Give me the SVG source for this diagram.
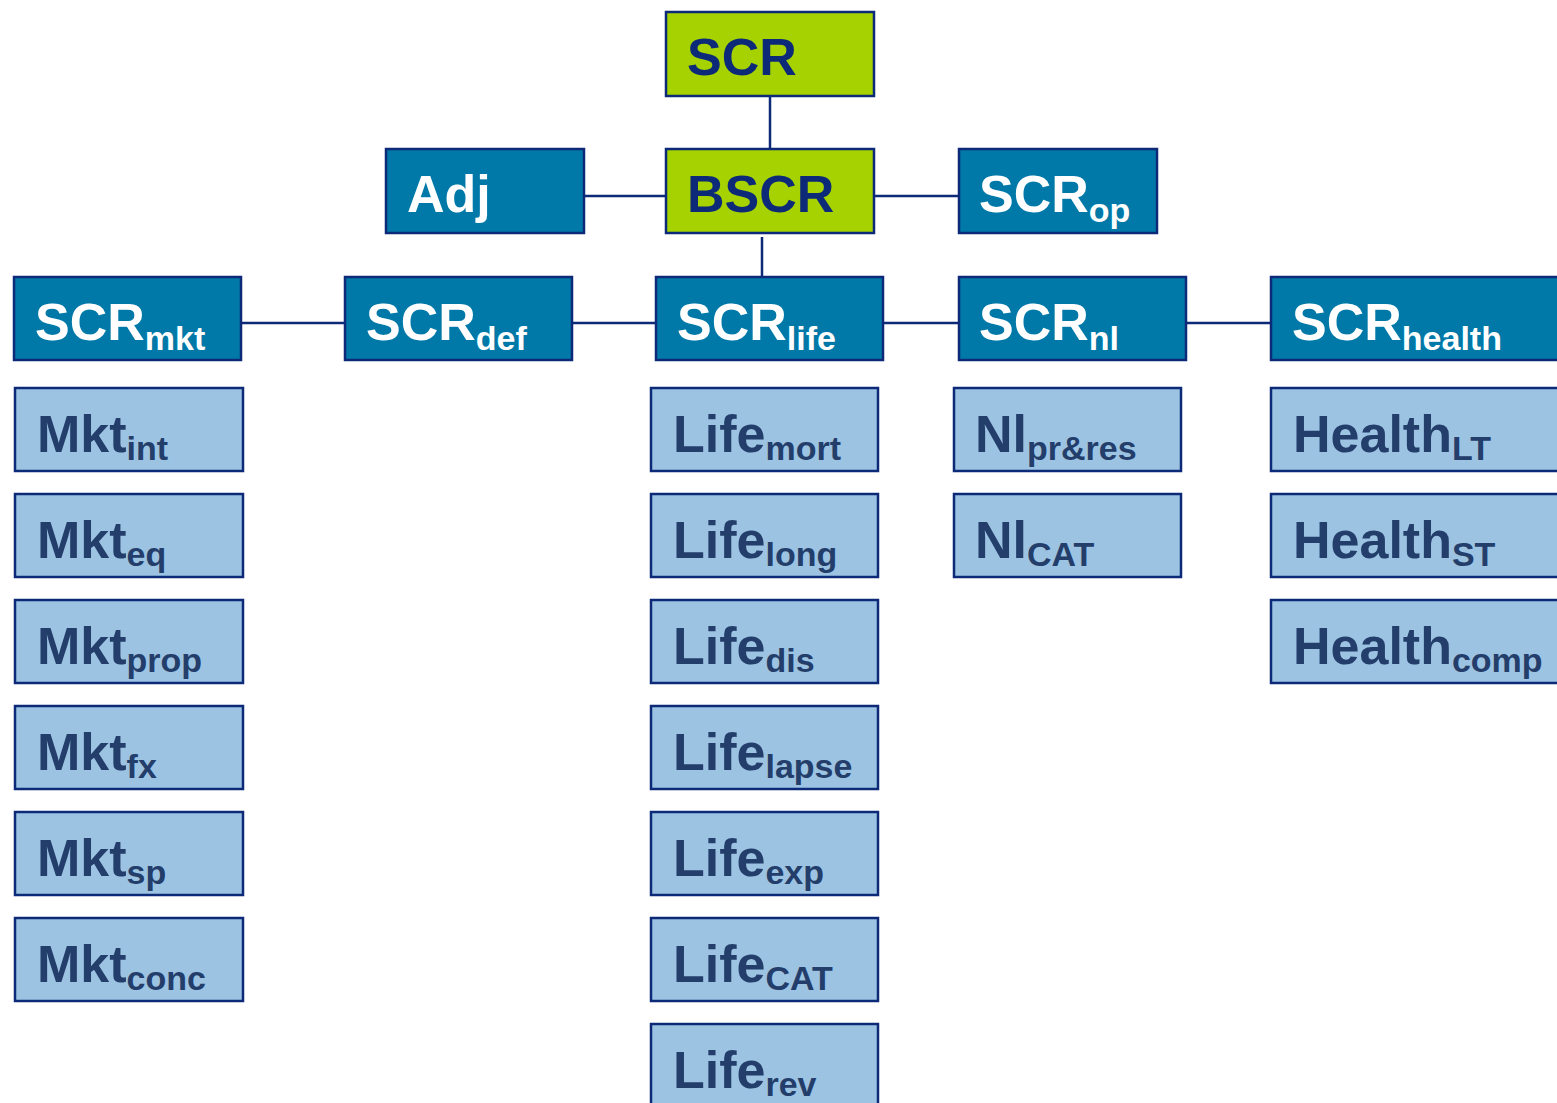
<svg xmlns="http://www.w3.org/2000/svg" width="1557" height="1103" viewBox="0 0 1557 1103">
<style>
.g{fill:#a5d200;stroke:#0d2a78;stroke-width:2.5}
.d{fill:#0079a8;stroke:#0d2a78;stroke-width:2.5}
.l{fill:#9dc3e3;stroke:#0d2a78;stroke-width:2.5}
text{font-family:"Liberation Sans",Arial,sans-serif;font-weight:bold;font-size:52px}
.tg{fill:#0d2a78}
.tw{fill:#ffffff}
.tl{fill:#233e6a}
.s{font-size:34px}
.c{stroke:#0d2a78;stroke-width:2.5;fill:none}
</style>
<g id="connectors">
<line class="c" x1="770" y1="96" x2="770" y2="149"/>
<line class="c" x1="584" y1="196" x2="666" y2="196"/>
<line class="c" x1="874" y1="196" x2="959" y2="196"/>
<line class="c" x1="762" y1="237" x2="762" y2="277"/>
<line class="c" x1="241" y1="323" x2="345" y2="323"/>
<line class="c" x1="572" y1="323" x2="656" y2="323"/>
<line class="c" x1="883" y1="323" x2="959" y2="323"/>
<line class="c" x1="1186" y1="323" x2="1271" y2="323"/>
</g>
<g id="scr"><rect class="g" x="666" y="12" width="208" height="84"/><text class="tg" x="687" y="75">SCR</text></g>
<g id="bscr"><rect class="g" x="666" y="149" width="208" height="84"/><text class="tg" x="687" y="212">BSCR</text></g>
<g id="adj"><rect class="d" x="386" y="149" width="198" height="84"/><text class="tw" x="407" y="212">Adj</text></g>
<g id="scrop"><rect class="d" x="959" y="149" width="198" height="84"/><text class="tw" x="979" y="212">SCR<tspan class="s" dy="10">op</tspan></text></g>
<g id="scrmkt"><rect class="d" x="14" y="277" width="227" height="83"/><text class="tw" x="35" y="340">SCR<tspan class="s" dy="10">mkt</tspan></text></g>
<g id="scrdef"><rect class="d" x="345" y="277" width="227" height="83"/><text class="tw" x="366" y="340">SCR<tspan class="s" dy="10">def</tspan></text></g>
<g id="scrlife"><rect class="d" x="656" y="277" width="227" height="83"/><text class="tw" x="677" y="340">SCR<tspan class="s" dy="10">life</tspan></text></g>
<g id="scrnl"><rect class="d" x="959" y="277" width="227" height="83"/><text class="tw" x="979" y="340">SCR<tspan class="s" dy="10">nl</tspan></text></g>
<g id="scrhealth"><rect class="d" x="1271" y="277" width="300" height="83"/><text class="tw" x="1292" y="340">SCR<tspan class="s" dy="10">health</tspan></text></g>
<g id="mktint"><rect class="l" x="15" y="388" width="228" height="83"/><text class="tl" x="37" y="452">Mkt<tspan class="s" dy="8">int</tspan></text></g>
<g id="mkteq"><rect class="l" x="15" y="494" width="228" height="83"/><text class="tl" x="37" y="558">Mkt<tspan class="s" dy="8">eq</tspan></text></g>
<g id="mktprop"><rect class="l" x="15" y="600" width="228" height="83"/><text class="tl" x="37" y="664">Mkt<tspan class="s" dy="8">prop</tspan></text></g>
<g id="mktfx"><rect class="l" x="15" y="706" width="228" height="83"/><text class="tl" x="37" y="770">Mkt<tspan class="s" dy="8">fx</tspan></text></g>
<g id="mktsp"><rect class="l" x="15" y="812" width="228" height="83"/><text class="tl" x="37" y="876">Mkt<tspan class="s" dy="8">sp</tspan></text></g>
<g id="mktconc"><rect class="l" x="15" y="918" width="228" height="83"/><text class="tl" x="37" y="982">Mkt<tspan class="s" dy="8">conc</tspan></text></g>
<g id="lifemort"><rect class="l" x="651" y="388" width="227" height="83"/><text class="tl" x="673" y="452">Life<tspan class="s" dy="8">mort</tspan></text></g>
<g id="lifelong"><rect class="l" x="651" y="494" width="227" height="83"/><text class="tl" x="673" y="558">Life<tspan class="s" dy="8">long</tspan></text></g>
<g id="lifedis"><rect class="l" x="651" y="600" width="227" height="83"/><text class="tl" x="673" y="664">Life<tspan class="s" dy="8">dis</tspan></text></g>
<g id="lifelapse"><rect class="l" x="651" y="706" width="227" height="83"/><text class="tl" x="673" y="770">Life<tspan class="s" dy="8">lapse</tspan></text></g>
<g id="lifeexp"><rect class="l" x="651" y="812" width="227" height="83"/><text class="tl" x="673" y="876">Life<tspan class="s" dy="8">exp</tspan></text></g>
<g id="lifecat"><rect class="l" x="651" y="918" width="227" height="83"/><text class="tl" x="673" y="982">Life<tspan class="s" dy="8">CAT</tspan></text></g>
<g id="liferev"><rect class="l" x="651" y="1024" width="227" height="90"/><text class="tl" x="673" y="1088">Life<tspan class="s" dy="8">rev</tspan></text></g>
<g id="nlprres"><rect class="l" x="954" y="388" width="227" height="83"/><text class="tl" x="975" y="452">Nl<tspan class="s" dy="8">pr&amp;res</tspan></text></g>
<g id="nlcat"><rect class="l" x="954" y="494" width="227" height="83"/><text class="tl" x="975" y="558">Nl<tspan class="s" dy="8">CAT</tspan></text></g>
<g id="healthlt"><rect class="l" x="1271" y="388" width="300" height="83"/><text class="tl" x="1293" y="452">Health<tspan class="s" dy="8">LT</tspan></text></g>
<g id="healthst"><rect class="l" x="1271" y="494" width="300" height="83"/><text class="tl" x="1293" y="558">Health<tspan class="s" dy="8">ST</tspan></text></g>
<g id="healthcomp"><rect class="l" x="1271" y="600" width="300" height="83"/><text class="tl" x="1293" y="664">Health<tspan class="s" dy="8">comp</tspan></text></g>
</svg>
